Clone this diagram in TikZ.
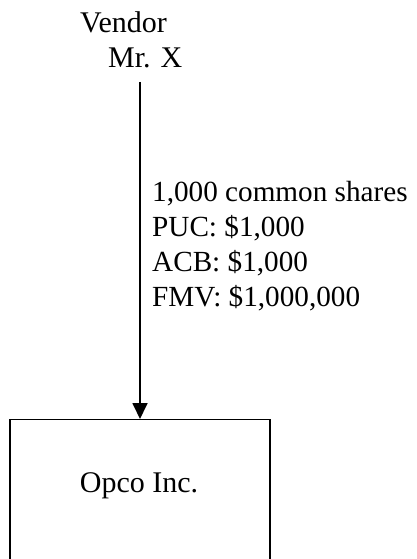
\documentclass[tikz,border=0pt]{standalone}
\usepackage{fontspec}
\setmainfont{Liberation Serif}
\usetikzlibrary{arrows.meta}
\begin{document}
\begin{tikzpicture}[x=1pt,y=-1pt,
  txt/.style={inner sep=0pt, font=\fontsize{30}{34.5}\selectfont},
  terms/.style={inner sep=0pt, font=\fontsize{29.2}{35}\selectfont},
  flow/.style={line width=1.8pt, -{Triangle[length=16pt,width=15pt]}},
  entity/.style={draw, line width=1.4pt, minimum width=260pt, minimum height=180pt, inner sep=0pt}]
  \useasboundingbox (0,0) rectangle (416,559);
  % shareholder
  \node[txt, anchor=base west] (vendor) at (80,33) {Vendor};
  \node[txt, anchor=base west] (mrx) at (108,68) {Mr. X};
  \coordinate (src) at (140,82);
  % corporation
  \node[entity, anchor=north] (opco) at (140,419) {};
  \node[txt, anchor=base] (opconame) at (139,492) {Opco Inc.};
  % share transfer
  \draw[flow] (src) -- (opco.north);
  \node[terms, anchor=north west, align=left] (terms) at (152,181.5)
    {1,000 common shares\\PUC: \$1,000\\ACB: \$1,000\\FMV: \$1,000,000};
\end{tikzpicture}
\end{document}
